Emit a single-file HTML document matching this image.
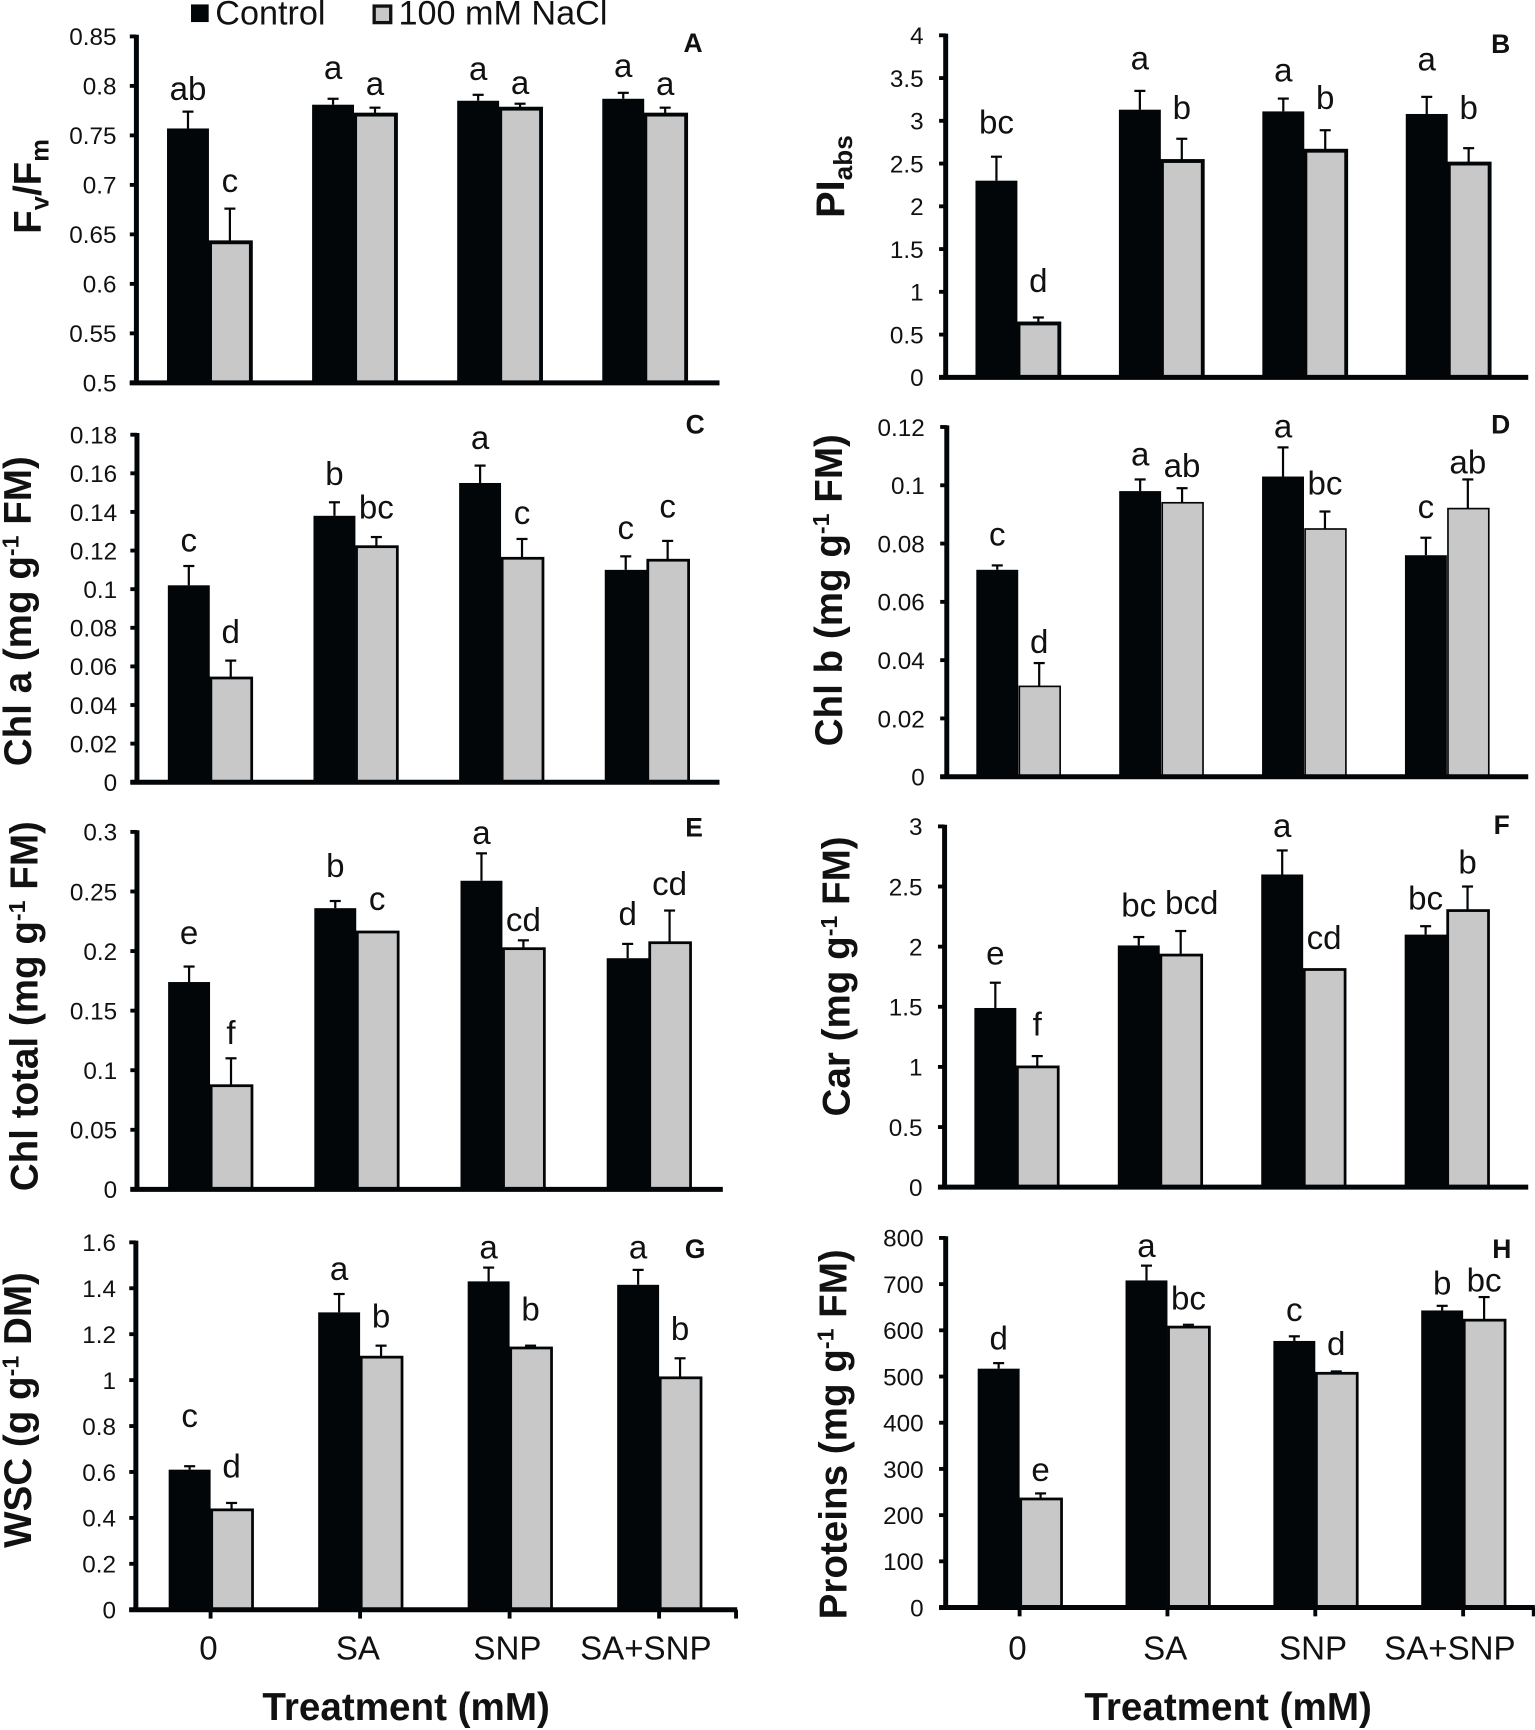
<!DOCTYPE html>
<html><head><meta charset="utf-8"><style>
html,body{margin:0;padding:0;background:#fff}
svg{display:block;font-family:"Liberation Sans",sans-serif}
</style></head><body>
<svg id="fig" width="1535" height="1730" viewBox="0 0 1391 1568" xmlns="http://www.w3.org/2000/svg">
<rect width="1391" height="1568" fill="#fff"/>
<g>
<rect x="173" y="4" width="16" height="16" fill="#030608"/>
<text x="195" y="22" font-size="31" fill="#111">Control</text>
<rect x="339" y="5.500" width="15" height="15" fill="#c8c8c8" stroke="#111" stroke-width="3"/>
<text x="361" y="22" font-size="31" fill="#111">100 mM NaCl</text>
</g>
<text x="368" y="1559" font-size="35" font-weight="bold" text-anchor="middle" fill="#111">Treatment (mM)</text>
<text x="1113" y="1559" font-size="35" font-weight="bold" text-anchor="middle" fill="#111">Treatment (mM)</text>
</svg>
<script>
const categories = ['0','SA','SNP','SA+SNP'];

const ticksA = ['0.5','0.55','0.6','0.65','0.7','0.75','0.8','0.85'];
const controlA = [0.757,0.781,0.785,0.787];
const saltA = [0.642,0.771,0.777,0.771];
const errControlA = [0.017,0.006,0.006,0.006];
const errSaltA = [0.034,0.007,0.005,0.007];
const lettersControlA = ['ab','a','a','a'];
const lettersSaltA = ['c','a','a','a'];
const liftControlA = [0.012,0.02,0.015,0.016];
const liftSaltA = [0.017,0.013,0.01,0.013];

const ticksB = ['0','0.5','1','1.5','2','2.5','3','3.5','4'];
const controlB = [2.3,3.13,3.11,3.08];
const saltB = [0.63,2.53,2.65,2.5];
const errControlB = [0.28,0.22,0.15,0.2];
const errSaltB = [0.07,0.26,0.24,0.18];
const lettersControlB = ['bc','a','a','a'];
const lettersSaltB = ['d','b','b','b'];
const liftControlB = [0.27,0.25,0.2,0.31];
const liftSaltB = [0.3,0.23,0.25,0.34];

const ticksC = ['0','0.02','0.04','0.06','0.08','0.1','0.12','0.14','0.16','0.18'];
const controlC = [0.102,0.138,0.155,0.11];
const saltC = [0.054,0.122,0.116,0.115];
const errControlC = [0.01,0.007,0.009,0.007];
const errSaltC = [0.009,0.005,0.01,0.01];
const lettersControlC = ['c','b','a','c'];
const lettersSaltC = ['d','bc','c','c'];
const liftControlC = [0.0074,0.009,0.0086,0.009];
const liftSaltC = [0.009,0.0097,0.0077,0.012];

const ticksD = ['0','0.02','0.04','0.06','0.08','0.1','0.12'];
const controlD = [0.071,0.098,0.103,0.076];
const saltD = [0.031,0.094,0.085,0.092];
const errControlD = [0.0015,0.004,0.01,0.006];
const errSaltD = [0.008,0.005,0.006,0.01];
const lettersControlD = ['c','a','a','c'];
const lettersSaltD = ['d','ab','bc','ab'];
const liftControlD = [0.0068,0.0047,0.0034,0.0068];
const liftSaltD = [0.0034,0.0038,0.0059,0.0021];

const ticksE = ['0','0.05','0.1','0.15','0.2','0.25','0.3'];
const controlE = [0.174,0.236,0.259,0.194];
const saltE = [0.087,0.216,0.202,0.207];
const errControlE = [0.013,0.006,0.023,0.012];
const errSaltE = [0.023,0,0.007,0.027];
const lettersControlE = ['e','b','a','d'];
const lettersSaltE = ['f','c','cd','cd'];
const liftControlE = [0.019,0.02,0.008,0.016];
const liftSaltE = [0.012,0.0185,0.008,0.013];

const ticksF = ['0','0.5','1','1.5','2','2.5','3'];
const controlF = [1.49,2.01,2.6,2.1];
const saltF = [1.0,1.93,1.81,2.3];
const errControlF = [0.21,0.07,0.2,0.07];
const errSaltF = [0.09,0.2,0,0.2];
const lettersControlF = ['e','bc','a','bc'];
const lettersSaltF = ['f','bcd','cd','b'];
const liftControlF = [0.15,0.17,0.11,0.14];
const liftSaltF = [0.17,0.14,0.17,0.11];

const ticksG = ['0','0.2','0.4','0.6','0.8','1','1.2','1.4','1.6'];
const controlG = [0.61,1.295,1.43,1.415];
const saltG = [0.435,1.1,1.14,1.01];
const errControlG = [0.015,0.08,0.06,0.065];
const errSaltG = [0.03,0.05,0.01,0.085];
const lettersControlG = ['c','a','a','a'];
const lettersSaltG = ['d','b','b','b'];
const liftControlG = [0.17,0.06,0.04,0.05];
const liftSaltG = [0.11,0.08,0.11,0.08];

const ticksH = ['0','100','200','300','400','500','600','700','800'];
const controlH = [517,708,577,643];
const saltH = [235,607,507,622];
const errControlH = [12,32,10,10];
const errSaltH = [12,5,4,50];
const lettersControlH = ['d','a','c','b'];
const lettersSaltH = ['e','bc','d','bc'];
const liftControlH = [30,19,33,25];
const liftSaltH = [27,33,36,12];

const NS = 'http://www.w3.org/2000/svg';
const fig = document.getElementById('fig');
const INK = '#030608';

function mk(parent, tag, attrs, name) {
  const el = document.createElementNS(NS, tag);
  for (const k in attrs) el.setAttribute(k, attrs[k]);
  
  
  parent.appendChild(el);
  return el;
}

function yTitle(group, cfg) {
  const t = mk(group, 'text', {
    transform: 'translate(' + cfg.tx + ',' + cfg.ty + ') rotate(-90)',
    'text-anchor': 'middle', 'font-size': cfg.ts, 'font-weight': 'bold', fill: '#111'
  }, 'y-axis-title');
  cfg.title.forEach(function (part) {
    const s = document.createElementNS(NS, 'tspan');
    s.textContent = part[0];
    if (part[1] === 'sub') { s.setAttribute('dy', cfg.ts * 0.2); s.setAttribute('font-size', cfg.ts * 0.66); }
    if (part[1] === 'sup') { s.setAttribute('dy', -cfg.ts * 0.33); s.setAttribute('font-size', cfg.ts * 0.6); }
    if (part[1] === 'rise') { s.setAttribute('dy', -cfg.ts * 0.2); }
    if (part[1] === 'drop') { s.setAttribute('dy', cfg.ts * 0.33); }
    t.appendChild(s);
  });
}

function drawPanel(cfg) {
  const g = mk(fig, 'g', {}, 'panel-' + cfg.id.toLowerCase());
  const lo = parseFloat(cfg.ticks[0]);
  const hi = parseFloat(cfg.ticks[cfg.ticks.length - 1]);
  const yScale = function (v) { return cfg.y0 + (v - lo) / (hi - lo) * (cfg.yTop - cfg.y0); };
  const xCenter = function (i) { return cfg.left + (i + 0.5) * cfg.band; };
  const halfBar = 38;

  cfg.ticks.forEach(function (label) {
    const y = yScale(parseFloat(label));
    mk(g, 'line', { x1: cfg.left - 6, x2: cfg.left, y1: y, y2: y, stroke: INK, 'stroke-width': 3.5 }, 'y-tick');
    const t = mk(g, 'text', { x: cfg.left - cfg.labelGap, y: y + 8, 'font-size': 22, 'text-anchor': 'end', fill: '#111' }, 'y-tick-label');
    t.textContent = label;
  });

  categories.forEach(function (cat, i) {
    const cx = xCenter(i);
    const yc = yScale(cfg.control[i]);
    const ys = yScale(cfg.salt[i]);
    mk(g, 'rect', { x: cx - halfBar, y: yc, width: halfBar, height: cfg.y0 - yc, fill: INK }, 'bar-control-' + cat.toLowerCase());
    mk(g, 'rect', { x: cx + 1, y: ys, width: halfBar - 1, height: cfg.y0 - ys, fill: '#c8c8c8', stroke: INK, 'stroke-width': cfg.sw }, 'bar-nacl-' + cat.toLowerCase());

    const xc = cx - halfBar / 2;
    const xs = cx + halfBar / 2;
    const ec = yScale(cfg.control[i] + cfg.errControl[i]);
    const es = yScale(cfg.salt[i] + cfg.errSalt[i]);
    if (cfg.errControl[i] > 0) {
      mk(g, 'line', { x1: xc, x2: xc, y1: yc, y2: ec, stroke: INK, 'stroke-width': 2 }, 'error-bar-control');
      mk(g, 'line', { x1: xc - 5, x2: xc + 5, y1: ec, y2: ec, stroke: INK, 'stroke-width': 2 }, 'error-cap-control');
    }
    if (cfg.errSalt[i] > 0) {
      mk(g, 'line', { x1: xs, x2: xs, y1: ys, y2: es, stroke: INK, 'stroke-width': 2 }, 'error-bar-nacl');
      mk(g, 'line', { x1: xs - 5, x2: xs + 5, y1: es, y2: es, stroke: INK, 'stroke-width': 2 }, 'error-cap-nacl');
    }
    const lc = mk(g, 'text', { x: xc, y: yScale(cfg.control[i] + cfg.errControl[i] + cfg.liftControl[i]), 'font-size': 30, 'text-anchor': 'middle', fill: '#111' }, 'significance-letter-control');
    lc.textContent = cfg.lettersControl[i];
    const nudge = cfg.wideLetterIndex === i ? 10 : 0;
    const ls = mk(g, 'text', { x: xs + nudge, y: yScale(cfg.salt[i] + cfg.errSalt[i] + cfg.liftSalt[i]), 'font-size': 30, 'text-anchor': 'middle', fill: '#111' }, 'significance-letter-nacl');
    ls.textContent = cfg.lettersSalt[i];

    if (cfg.xLabels) {
      const xl = cx - (i === 3 ? 12 : 2);
      mk(g, 'line', { x1: cx, x2: cx, y1: cfg.y0, y2: cfg.y0 + 8, stroke: INK, 'stroke-width': 3.5 }, 'x-tick');
      const t = mk(g, 'text', { x: xl, y: 1504, 'font-size': 30, 'text-anchor': 'middle', fill: '#111' }, 'x-tick-label');
      t.textContent = cat;
    }
  });
  if (cfg.xLabels) {
    mk(g, 'line', { x1: cfg.right - 1, x2: cfg.right - 1, y1: cfg.y0, y2: cfg.y0 + 8, stroke: INK, 'stroke-width': 3.5 }, 'x-tick');
  }

  mk(g, 'line', { x1: cfg.left, x2: cfg.left, y1: cfg.yTop - 1.5, y2: cfg.y0, stroke: INK, 'stroke-width': 4.5 }, 'y-axis-line');
  mk(g, 'line', { x1: cfg.left - 6, x2: cfg.right, y1: cfg.y0, y2: cfg.y0, stroke: INK, 'stroke-width': 4.5 }, 'x-axis-line');

  const pl = mk(g, 'text', { x: cfg.lx, y: cfg.ly, 'font-size': 24, 'font-weight': 'bold', 'text-anchor': 'middle', fill: '#111' }, 'panel-label');
  pl.textContent = cfg.id;
  yTitle(g, cfg);
}

const panelConfigs = [
  { id:'A', ticks:ticksA, control:controlA, salt:saltA, errControl:errControlA, errSalt:errSaltA, lettersControl:lettersControlA, lettersSalt:lettersSaltA, liftControl:liftControlA, liftSalt:liftSaltA,
    left:123.500, band:131.500, right:652, y0:347, yTop:33, labelGap:18, sw:3.500, lx:628, ly:47, tx:37, ty:169, ts:35, title:[['F'],['v','sub'],['/F','rise'],['m','sub']] },
  { id:'B', ticks:ticksB, control:controlB, salt:saltB, errControl:errControlB, errSalt:errSaltB, lettersControl:lettersControlB, lettersSalt:lettersSaltB, liftControl:liftControlB, liftSalt:liftSaltB,
    left:857, band:130, right:1385, y0:342, yTop:32, labelGap:20, sw:3.500, lx:1360, ly:48, tx:765, ty:160, ts:36, title:[['PI'],['abs','sub']] },
  { id:'C', ticks:ticksC, control:controlC, salt:saltC, errControl:errControlC, errSalt:errSaltC, lettersControl:lettersControlC, lettersSalt:lettersSaltC, liftControl:liftControlC, liftSalt:liftSaltC,
    left:124, band:132, right:652, y0:709, yTop:394, labelGap:18, sw:2.500, lx:630, ly:393, tx:28, ty:554, ts:35, title:[['Chl a (mg g'],['-1','sup'],[' FM)','drop']] },
  { id:'D', ticks:ticksD, control:controlD, salt:saltD, errControl:errControlD, errSalt:errSaltD, lettersControl:lettersControlD, lettersSalt:lettersSaltD, liftControl:liftControlD, liftSalt:liftSaltD,
    left:858, band:129.500, right:1385, y0:704, yTop:387, labelGap:20, sw:1.500, lx:1360, ly:393, tx:763, ty:535, ts:35, title:[['Chl b (mg g'],['-1','sup'],[' FM)','drop']] },
  { id:'E', ticks:ticksE, control:controlE, salt:saltE, errControl:errControlE, errSalt:errSaltE, lettersControl:lettersControlE, lettersSalt:lettersSaltE, liftControl:liftControlE, liftSalt:liftSaltE,
    left:124, band:132.500, right:655, y0:1078, yTop:754, labelGap:18, sw:2.500, lx:629, ly:758, tx:34, ty:912, ts:35, title:[['Chl total (mg g'],['-1','sup'],[' FM)','drop']] },
  { id:'F', ticks:ticksF, control:controlF, salt:saltF, errControl:errControlF, errSalt:errSaltF, lettersControl:lettersControlF, lettersSalt:lettersSaltF, liftControl:liftControlF, liftSalt:liftSaltF,
    left:856, band:130, right:1385, y0:1076, yTop:749, labelGap:20, sw:2.500, lx:1361, ly:756, tx:770, ty:885, ts:35, wideLetterIndex:1, title:[['Car (mg g'],['-1','sup'],[' FM)','drop']] },
  { id:'G', ticks:ticksG, control:controlG, salt:saltG, errControl:errControlG, errSalt:errSaltG, lettersControl:lettersControlG, lettersSalt:lettersSaltG, liftControl:liftControlG, liftSalt:liftSaltG,
    left:123, band:135.500, right:668, y0:1459, yTop:1126, labelGap:18, sw:2.500, lx:630, ly:1140, tx:28, ty:1278, ts:35, title:[['WSC (g g'],['-1','sup'],[' DM)','drop']], xLabels:true },
  { id:'H', ticks:ticksH, control:controlH, salt:saltH, errControl:errControlH, errSalt:errSaltH, lettersControl:lettersControlH, lettersSalt:lettersSaltH, liftControl:liftControlH, liftSalt:liftSaltH,
    left:857, band:134, right:1391, y0:1457, yTop:1122, labelGap:20, sw:2.500, lx:1361, ly:1140, tx:767, ty:1300, ts:35, title:[['Proteins (mg g'],['-1','sup'],[' FM)','drop']], xLabels:true }
];

panelConfigs.forEach(drawPanel);
</script>
</body></html>
